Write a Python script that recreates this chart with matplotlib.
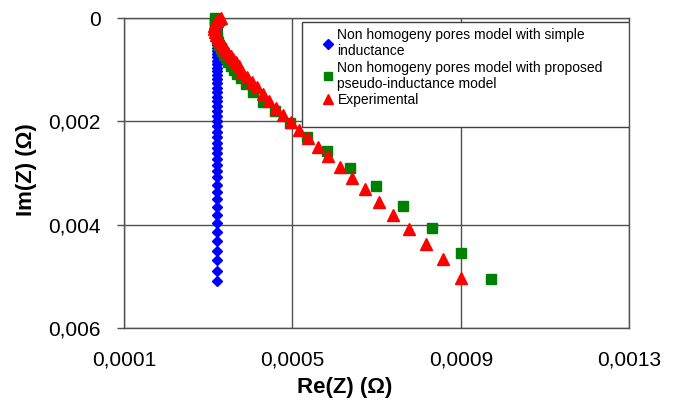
import matplotlib
matplotlib.use("Agg")
import matplotlib.pyplot as plt
from matplotlib.patches import Rectangle

plt.rcParams['font.family'] = ['Liberation Sans', 'DejaVu Sans']

# -------------------------------
# Data (Nyquist plot, ohms)
# -------------------------------
# Non homogeny pores model with simple inductance
simple_re = [0.000322, 0.000322, 0.000322, 0.000322, 0.000322, 0.000322, 0.000322,
             0.000322, 0.000322, 0.000322, 0.000322, 0.000322, 0.000322, 0.000322,
             0.000322, 0.000322, 0.000322, 0.000322, 0.000322, 0.000322, 0.000322,
             0.000322, 0.000322, 0.000322, 0.000322, 0.000322, 0.000322, 0.000322,
             0.000322, 0.000322, 0.000322, 0.000322, 0.000322, 0.000322, 0.000322,
             0.000322, 0.000322, 0.000322, 0.000322, 0.000322, 0.000322, 0.000322,
             0.000322, 0.000322, 0.000322, 0.000322, 0.000322, 0.000322, 0.000322,
             0.000322, 0.000322, 0.000322, 0.000322, 0.000322, 0.000322, 0.000322,
             0.000322]
simple_im = [0.0, 0.019e-3, 0.039e-3, 0.058e-3, 0.087e-3, 0.117e-3, 0.146e-3, 0.175e-3,
             0.214e-3, 0.252e-3, 0.291e-3, 0.330e-3, 0.379e-3, 0.427e-3, 0.476e-3,
             0.524e-3, 0.583e-3, 0.641e-3, 0.699e-3, 0.757e-3, 0.825e-3, 0.893e-3,
             0.961e-3, 1.029e-3, 1.107e-3, 1.184e-3, 1.262e-3, 1.349e-3, 1.437e-3,
             1.524e-3, 1.612e-3, 1.709e-3, 1.806e-3, 1.903e-3, 2.000e-3, 2.098e-3,
             2.204e-3, 2.311e-3, 2.418e-3, 2.515e-3, 2.616e-3, 2.725e-3, 2.841e-3,
             2.966e-3, 3.082e-3, 3.224e-3, 3.365e-3, 3.509e-3, 3.657e-3, 3.812e-3,
             3.967e-3, 4.136e-3, 4.317e-3, 4.500e-3, 4.686e-3, 4.888e-3, 5.094e-3]

# Non homogeny pores model with proposed pseudo-inductance model
pseudo_re = [0.000316, 0.000316, 0.000316, 0.000316, 0.000318, 0.000318, 0.000321,
             0.000321, 0.000323, 0.000326, 0.000330, 0.000333, 0.000337, 0.000342,
             0.000347, 0.000354, 0.000361, 0.000368, 0.000378, 0.000390, 0.000406,
             0.000430, 0.000458, 0.000494, 0.000534, 0.000582, 0.000637, 0.000698,
             0.000762, 0.000831, 0.000900, 0.000971]
pseudo_im = [0.0, 0.058e-3, 0.117e-3, 0.175e-3, 0.233e-3, 0.291e-3, 0.350e-3,
             0.408e-3, 0.466e-3, 0.524e-3, 0.583e-3, 0.641e-3, 0.719e-3, 0.777e-3,
             0.854e-3, 0.932e-3, 1.010e-3, 1.088e-3, 1.165e-3, 1.282e-3, 1.437e-3,
             1.631e-3, 1.806e-3, 2.039e-3, 2.311e-3, 2.583e-3, 2.894e-3, 3.243e-3,
             3.632e-3, 4.059e-3, 4.544e-3, 5.049e-3]

# Experimental
exp_re = [0.000330, 0.000326, 0.000321, 0.000316, 0.000314, 0.000314, 0.000316,
          0.000318, 0.000323, 0.000328, 0.000333, 0.000337, 0.000342, 0.000347,
          0.000354, 0.000359, 0.000366, 0.000373, 0.000380, 0.000392, 0.000404,
          0.000416, 0.000430, 0.000444, 0.000461, 0.000478, 0.000496, 0.000515,
          0.000537, 0.000561, 0.000584, 0.000613, 0.000641, 0.000672, 0.000705,
          0.000739, 0.000777, 0.000817, 0.000857, 0.000900]
exp_im = [0.0, 0.019e-3, 0.058e-3, 0.097e-3, 0.155e-3, 0.214e-3, 0.272e-3,
          0.330e-3, 0.388e-3, 0.447e-3, 0.505e-3, 0.563e-3, 0.622e-3, 0.680e-3,
          0.738e-3, 0.796e-3, 0.854e-3, 0.932e-3, 1.049e-3, 1.146e-3, 1.243e-3,
          1.340e-3, 1.476e-3, 1.612e-3, 1.748e-3, 1.884e-3, 2.020e-3, 2.175e-3,
          2.330e-3, 2.505e-3, 2.680e-3, 2.874e-3, 3.088e-3, 3.301e-3, 3.554e-3,
          3.806e-3, 4.078e-3, 4.370e-3, 4.661e-3, 5.030e-3]

x_ticks = [0.0001, 0.0005, 0.0009, 0.0013]
x_tick_labels = ["0,0001", "0,0005", "0,0009", "0,0013"]
y_ticks = [0.0, 0.002, 0.004, 0.006]
y_tick_labels = ["0", "0,002", "0,004", "0,006"]

labels = ["Non homogeny pores model with simple\ninductance",
          "Non homogeny pores model with proposed\npseudo-inductance model",
          "Experimental"]

# -------------------------------
# Figure
# -------------------------------
fig = plt.figure(figsize=(6.91, 4.01), dpi=100)
ax = fig.add_axes([0.1795, 0.182, 0.731, 0.773])

grid_color = "#505050"
ax.set_xlim(x_ticks[0], x_ticks[-1])
ax.set_ylim(y_ticks[-1], y_ticks[0])
ax.set_xticks(x_ticks)
ax.set_xticklabels(x_tick_labels)
ax.set_yticks(y_ticks)
ax.set_yticklabels(y_tick_labels)
ax.grid(True, color=grid_color, linewidth=1.0)
ax.set_axisbelow(True)
for s in ax.spines.values():
    s.set_color(grid_color)
    s.set_linewidth(1.0)

ax.tick_params(axis='x', length=0, pad=16, labelsize=15)
ax.tick_params(axis='y', length=5, width=1, color=grid_color, pad=12, labelsize=15)

ax.plot(simple_re, simple_im, linestyle='none', marker='D', markersize=5.5,
        color='#0000FF', label=labels[0], clip_on=False, zorder=3)
ax.plot(pseudo_re, pseudo_im, linestyle='none', marker='s', markersize=6.5,
        color='#008000', label=labels[1], clip_on=False, zorder=4)
ax.plot(exp_re, exp_im, linestyle='none', marker='^', markersize=8.5,
        color='#FF0000', label=labels[2], clip_on=False, zorder=5)

ax.set_xlabel("Re(Z) (Ω)", fontsize=16, fontweight='bold')
ax.set_ylabel("Im(Z) (Ω)", fontsize=16, fontweight='bold')
ax.xaxis.set_label_coords(0.436, -0.158)
ax.yaxis.set_label_coords(-0.172, 0.51)

# legend frame drawn separately, taller than its entries
frame = Rectangle((0.352, 0.648), 0.648, 0.339, transform=ax.transAxes,
                  facecolor='white', edgecolor='#404040', linewidth=1.0, zorder=6)
ax.add_patch(frame)
leg = ax.legend(loc='upper left', bbox_to_anchor=(0.384, 0.985), frameon=False,
                fontsize=10, handlelength=0.7, handletextpad=0.3,
                labelspacing=0.15, borderaxespad=0, markerscale=0.85)
leg.set_zorder(7)

fig.savefig("out.png", dpi=100)
